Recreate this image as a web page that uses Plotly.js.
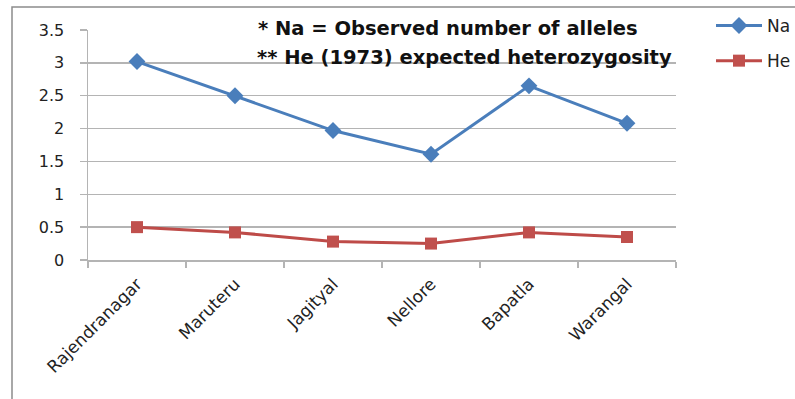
<!DOCTYPE html>
<html>
<head>
<meta charset="utf-8">
<script src="https://cdn.plot.ly/plotly-3.0.1.min.js"></script>
<style>
  html, body { margin: 0; padding: 0; background: #ffffff; }
  #chart { width: 795px; height: 399px; }
</style>
</head>
<body>
<div id="chart"></div>
<script>
// Locations and genetic diversity values
const locations = ['Rajendranagar', 'Maruteru', 'Jagityal', 'Nellore', 'Bapatla', 'Warangal'];
const naValues = [3.02, 2.50, 1.97, 1.61, 2.65, 2.08];
const heValues = [0.50, 0.42, 0.28, 0.25, 0.42, 0.35];
const yTicks = [0, 0.5, 1, 1.5, 2, 2.5, 3, 3.5];
const yTickText = ['0', '0.5', '1', '1.5', '2', '2.5', '3', '3.5'];

const FONT = 'DejaVu Sans, Liberation Sans, sans-serif';
const GRID = '#b4b4b4';

const traces = [
  {
    x: locations, y: naValues, name: 'Na', type: 'scatter', mode: 'lines+markers',
    legendgroup: 'na',
    line: { color: '#4a7ebb', width: 3 },
    marker: { symbol: 'diamond', size: 13, color: '#4a7ebb' }
  },
  {
    x: locations, y: heValues, name: 'He', type: 'scatter', mode: 'lines+markers',
    legendgroup: 'he',
    line: { color: '#be4b48', width: 3 },
    marker: { symbol: 'square', size: 12, color: '#c0504d' }
  }
];

// plot area spans x 88..676 px, y 30..260 px
const L = 88, R = 676, T = 30, B = 260;
const px = v => (v - L) / (R - L);
const py = v => (B - v) / (B - T);

const layout = {
  width: 795, height: 399,
  margin: { l: L, r: 795 - R, t: T, b: 399 - B, autoexpand: false },
  paper_bgcolor: '#ffffff', plot_bgcolor: '#ffffff',
  font: { family: FONT, size: 15, color: '#222222' },
  showlegend: true,
  legend: {
    x: px(711), y: py(8), xanchor: 'left', yanchor: 'top',
    traceorder: 'grouped', tracegroupgap: 10,
    font: { family: FONT, size: 17, color: '#222222' },
    bgcolor: 'rgba(0,0,0,0)', itemwidth: 46
  },
  xaxis: {
    type: 'category', range: [-0.5, 5.5],
    tickangle: -45, ticks: 'outside', tickson: 'boundaries', ticklen: 6,
    tickcolor: GRID, tickwidth: 1.5, ticklabelstandoff: 6,
    showline: true, linecolor: GRID, linewidth: 1.5,
    showgrid: false, zeroline: false,
    tickfont: { family: FONT, size: 17, color: '#222222' }
  },
  yaxis: {
    range: [0, 3.5], tickvals: yTicks, ticktext: yTickText,
    ticks: 'outside', ticklen: 7, tickcolor: GRID, tickwidth: 1.5,
    ticklabelstandoff: 12,
    showline: true, linecolor: GRID, linewidth: 1.5,
    showgrid: true, gridcolor: GRID, gridwidth: 1.5, zeroline: false,
    tickfont: { family: FONT, size: 16, color: '#222222' }
  },
  shapes: [
    {
      type: 'rect', xref: 'paper', yref: 'paper',
      x0: px(12), x1: px(820), y0: py(420), y1: py(7),
      line: { color: '#8c8c8c', width: 1.5 }, fillcolor: 'rgba(0,0,0,0)', layer: 'below'
    }
  ],
  annotations: [
    {
      xref: 'paper', yref: 'paper', x: px(256), y: py(28), xanchor: 'left', yanchor: 'middle',
      text: '* Na = Observed number of alleles', showarrow: false,
      font: { family: FONT, size: 19.5, color: '#111111', weight: 'bold' }
    },
    {
      xref: 'paper', yref: 'paper', x: px(255), y: py(58), xanchor: 'left', yanchor: 'middle',
      text: '** He (1973) expected heterozygosity', showarrow: false,
      font: { family: FONT, size: 19.5, color: '#111111', weight: 'bold' }
    }
  ]
};

Plotly.newPlot('chart', traces, layout, { displayModeBar: false, staticPlot: true });
</script>
</body>
</html>
